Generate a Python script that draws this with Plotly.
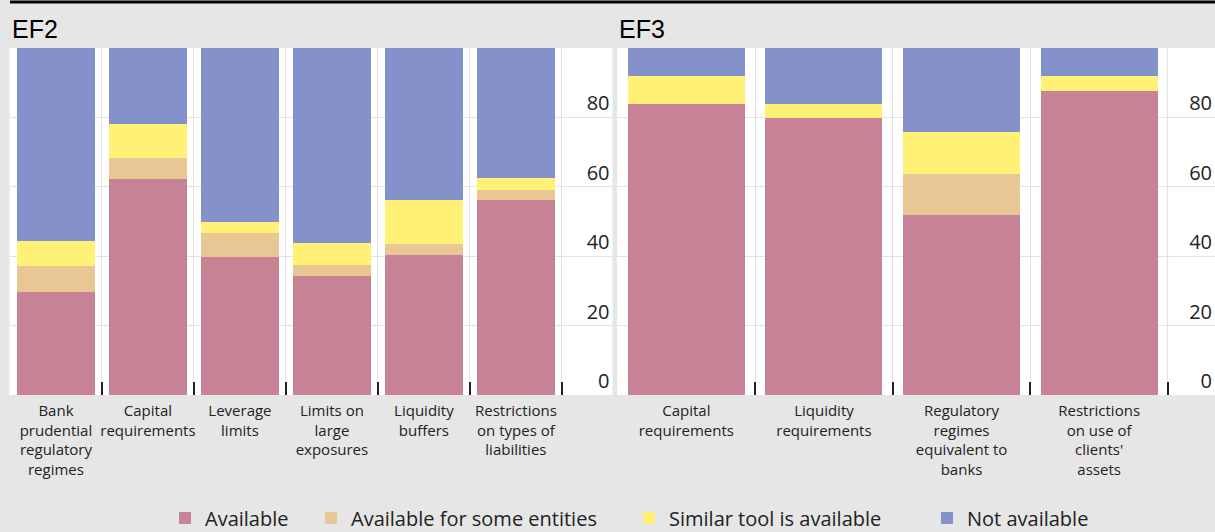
import plotly.graph_objects as go
from plotly.subplots import make_subplots

# EF2 panel
ef2_cats = ["Bank<br>prudential<br>regulatory<br>regimes", "Capital<br>requirements",
            "Leverage<br>limits", "Limits on<br>large<br>exposures",
            "Liquidity<br>buffers", "Restrictions<br>on types of<br>liabilities"]
ef2_available = [29.6, 62.3, 39.9, 34.3, 40.4, 56.2]
ef2_some = [7.5, 6.1, 6.7, 3.2, 3.2, 2.9]
ef2_similar = [7.3, 9.6, 3.4, 6.2, 12.6, 3.3]
ef2_not = [55.6, 22.0, 50.0, 56.3, 43.8, 37.6]

# EF3 panel
ef3_cats = ["Capital<br>requirements", "Liquidity<br>requirements",
            "Regulatory<br>regimes<br>equivalent to<br>banks",
            "Restrictions<br>on use of<br>clients'<br>assets"]
ef3_available = [83.8, 79.9, 51.9, 87.7]
ef3_some = [0, 0, 11.8, 0]
ef3_similar = [8.1, 3.9, 12.2, 4.2]
ef3_not = [8.1, 16.2, 24.1, 8.1]

series_names = ["Available", "Available for some entities", "Similar tool is available", "Not available"]
colors = ["#c88295", "#e8c795", "#fef176", "#8591cb"]
legend_ids = ["legend", "legend2", "legend3", "legend4"]
legend_text_x = [205, 351, 669, 967]  # where each legend label starts, px

W = 1215
fig = make_subplots(rows=1, cols=2)

ef2_data = [ef2_available, ef2_some, ef2_similar, ef2_not]
ef3_data = [ef3_available, ef3_some, ef3_similar, ef3_not]

for i, name in enumerate(series_names):
    fig.add_bar(x=ef2_cats, y=ef2_data[i], name=name, marker_color=colors[i],
                marker_line_width=0, legendgroup=name, legend=legend_ids[i], row=1, col=1)
    fig.add_bar(x=ef3_cats, y=ef3_data[i], name=name, marker_color=colors[i],
                marker_line_width=0, legendgroup=name, showlegend=False, row=1, col=2)

xcommon = dict(type="category", tickson="boundaries", ticks="inside", ticklen=13,
               tickwidth=2, tickcolor="#222", showgrid=True, gridcolor="#e2e2e2",
               showline=False, zeroline=False, tickangle=0, ticklabelstandoff=5,
               tickfont=dict(family="Open Sans", size=15, color="#222"))
ycommon = dict(range=[0, 100], tickvals=[0, 20, 40, 60, 80], side="right",
               ticklabelposition="inside top", showgrid=True, gridcolor="#e2e2e2",
               zeroline=False, showline=False, ticks="",
               tickfont=dict(family="Open Sans", size=20, color="#222"))

fig.update_xaxes(xcommon)
fig.update_yaxes(ycommon)
fig.update_layout(
    xaxis=dict(domain=[9.5 / W, 612.5 / W], range=[-0.505, 6.05]),
    xaxis2=dict(domain=[617 / W, 1], range=[-0.504, 3.842]),
)

fig.add_annotation(text="EF2", x=10 / W, y=1 + (48 - 29) / 347, xref="paper", yref="paper",
                   xanchor="left", yanchor="middle", showarrow=False,
                   font=dict(family="Liberation Sans", size=25, color="black"))
fig.add_annotation(text="EF3", x=617 / W, y=1 + (48 - 29) / 347, xref="paper", yref="paper",
                   xanchor="left", yanchor="middle", showarrow=False,
                   font=dict(family="Liberation Sans", size=25, color="black"))
fig.add_shape(type="line", xref="paper", yref="paper", x0=10 / W, x1=1,
              y0=1 + 46 / 347, y1=1 + 46 / 347, line=dict(color="black", width=3))

fig.update_layout(
    barmode="stack", bargap=0.15,
    width=W, height=532,
    margin=dict(l=0, r=0, t=48, b=137, autoexpand=False),
    paper_bgcolor="#e6e6e6", plot_bgcolor="white",
)

# one legend per entry so the spacing follows the reference
for lid, tx in zip(legend_ids, legend_text_x):
    fig.update_layout({lid: dict(orientation="h", x=(tx - 40) / W, xanchor="left",
                                 y=-(518 - 395) / 347, yanchor="middle",
                                 font=dict(family="Open Sans", size=20, color="#222"),
                                 bgcolor="rgba(0,0,0,0)")})

fig.write_html("out.html", config={"displayModeBar": False},
               post_script="document.body.style.margin='0px';")
